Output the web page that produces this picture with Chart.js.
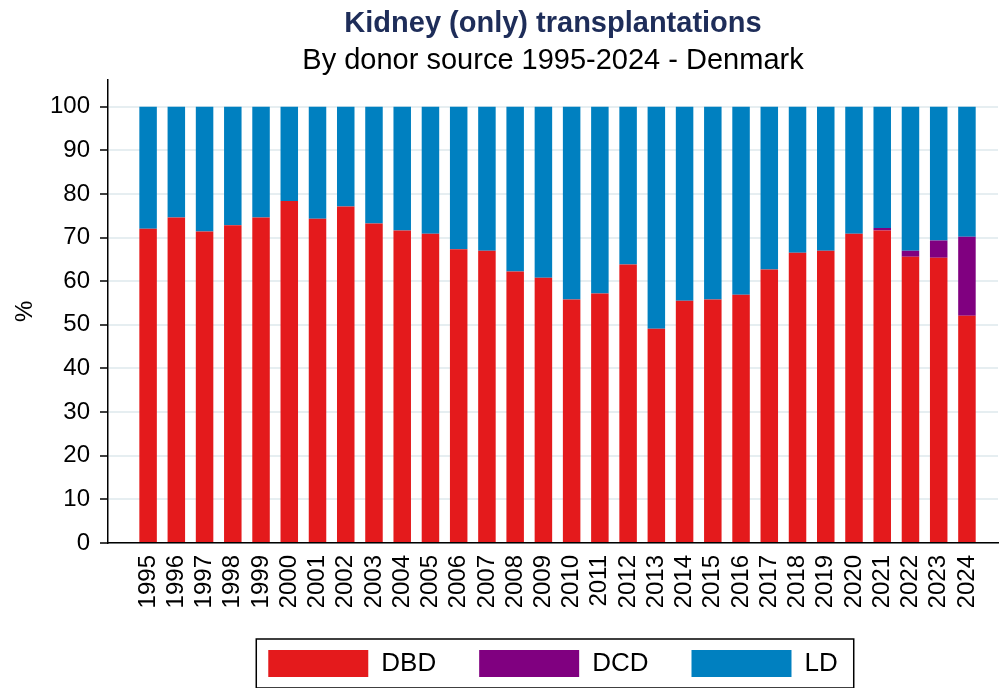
<!DOCTYPE html>
<html>
<head>
<meta charset="utf-8">
<script src="https://cdn.jsdelivr.net/npm/chart.js@4/dist/chart.umd.min.js"></script>
<style>
  html, body { margin: 0; padding: 0; background: #fff; }
  #wrap { width: 1002px; height: 688px; }
</style>
</head>
<body>
<div id="wrap"><canvas id="chart" width="1002" height="688"></canvas></div>
<script>
// data (percent of kidney transplants per year)
const years = [1995, 1996, 1997, 1998, 1999, 2000, 2001, 2002, 2003, 2004,
  2005, 2006, 2007, 2008, 2009, 2010, 2011, 2012, 2013, 2014,
  2015, 2016, 2017, 2018, 2019, 2020, 2021, 2022, 2023, 2024]
const dbd = [72.0, 74.6, 71.4, 72.8, 74.6, 78.4, 74.3, 77.1, 73.2, 71.6,
  70.9, 67.3, 67.0, 62.2, 60.8, 55.8, 57.2, 63.8, 49.1, 55.5,
  55.8, 56.9, 62.7, 66.5, 67.0, 70.9, 71.6, 65.6, 65.4, 52.1]
const dcd = [0, 0, 0, 0, 0, 0, 0, 0, 0, 0,
  0, 0, 0, 0, 0, 0, 0, 0, 0, 0,
  0, 0, 0, 0, 0, 0, 0.6, 1.4, 3.9, 18.1]
const ld = [28.0, 25.4, 28.6, 27.2, 25.4, 21.6, 25.7, 22.9, 26.8, 28.4,
  29.1, 32.7, 33.0, 37.8, 39.2, 44.2, 42.8, 36.2, 50.9, 44.5,
  44.2, 43.1, 37.3, 33.5, 33.0, 29.1, 27.8, 33.0, 30.7, 29.8]
const yTicks = [0, 10, 20, 30, 40, 50, 60, 70, 80, 90, 100]

// colours
const colours = { DBD: '#e41a1c', DCD: '#800080', LD: '#0080c0' }
const font = '"Liberation Sans", Arial, sans-serif'

const series = (values) => values.map((v, i) => ({ x: years[i], y: v }))

const makeSet = (label, values) => ({
  label,
  data: series(values),
  backgroundColor: colours[label],
  borderWidth: 0,
  barPercentage: 0.62,
  categoryPercentage: 1
})

// legend: wide gaps between items but a short box, plus a frame round it
const legendBox = {
  id: 'legendBox',
  beforeLayout (chart) {
    const legend = chart.legend
    if (!legend || legend._patched) return
    const fit = legend.fit
    legend.fit = function () {
      fit.call(this)
      this.height = 81
    }
    legend._patched = true
  },
  afterDraw (chart) {
    const boxes = chart.legend.legendHitBoxes
    if (!boxes || !boxes.length) return
    const first = boxes[0]
    const last = boxes[boxes.length - 1]
    const ctx = chart.ctx
    ctx.save()
    ctx.strokeStyle = '#000'
    ctx.lineWidth = 1.5
    ctx.strokeRect(first.left - 12, first.top - 11,
      last.left + last.width + 16 - (first.left - 12), first.height + 22)
    ctx.restore()
  }
}

const chart = new Chart(document.getElementById('chart'), {
  type: 'bar',
  data: {
    datasets: [makeSet('DBD', dbd), makeSet('DCD', dcd), makeSet('LD', ld)]
  },
  plugins: [legendBox],
  options: {
    responsive: false,
    animation: false,
    devicePixelRatio: 1,
    layout: { padding: { left: 0, right: 4, top: 0, bottom: 0 } },
    plugins: {
      tooltip: { enabled: false },
      title: {
        display: true,
        fullSize: false,
        text: 'Kidney (only) transplantations',
        color: '#1e2d59',
        font: { family: font, size: 29, weight: 'bold', lineHeight: 1.2 },
        padding: { top: 7, bottom: 0 }
      },
      subtitle: {
        display: true,
        fullSize: false,
        text: 'By donor source 1995-2024 - Denmark',
        color: '#000',
        font: { family: font, size: 29, lineHeight: 1.2 },
        padding: { top: 2, bottom: 1 }
      },
      legend: {
        position: 'bottom',
        fullSize: false,
        labels: {
          boxWidth: 100,
          boxHeight: 27,
          padding: 43,
          color: '#000',
          font: { family: font, size: 26 }
        }
      }
    },
    scales: {
      x: {
        type: 'linear',
        stacked: true,
        offset: false,
        min: 1993.58,
        max: 2025.1,
        grid: { display: false, drawTicks: false },
        border: { display: true, color: '#000', width: 1.5 },
        afterBuildTicks: (scale) => { scale.ticks = years.map(v => ({ value: v })) },
        afterFit: (scale) => {
          scale.height = 64
          scale.paddingLeft = 0
          scale.paddingRight = 0
        },
        ticks: {
          autoSkip: false,
          minRotation: 90,
          maxRotation: 90,
          padding: 12,
          color: '#000',
          font: { family: font, size: 24 },
          callback: (v) => String(v)
        }
      },
      y: {
        stacked: true,
        min: 0,
        max: 106.2,
        afterBuildTicks: (scale) => { scale.ticks = yTicks.map(v => ({ value: v })) },
        afterFit: (scale) => { scale.width = 108 },
        grid: { color: '#e6eef1', lineWidth: 2, tickColor: '#000', tickLength: 8, tickWidth: 1.5 },
        border: { display: true, color: '#000', width: 1.5 },
        ticks: {
          padding: 10,
          color: '#000',
          font: { family: font, size: 24 }
        },
        title: {
          display: true,
          text: '%',
          color: '#000',
          font: { family: font, size: 24, lineHeight: 1.2 },
          padding: { top: 11, bottom: 0 }
        }
      }
    }
  }
})
</script>
</body>
</html>
